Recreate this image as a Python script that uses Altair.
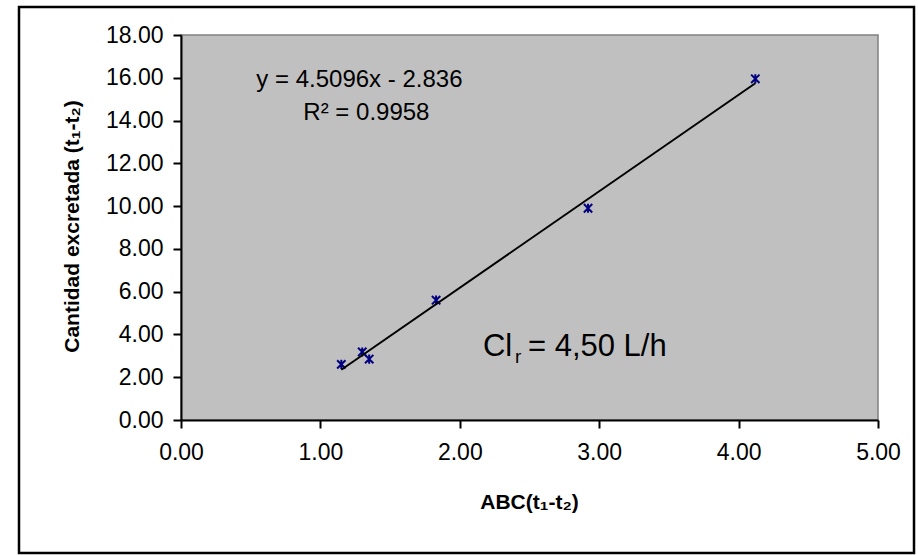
import altair as alt
import pandas as pd

# ---- data ----
x_vals = [1.15, 1.30, 1.35, 1.83, 2.92, 4.12]
y_vals = [2.60, 3.18, 2.85, 5.60, 9.90, 15.95]
slope = 4.5096
intercept = -2.836
fit_x = [1.15, 4.12]
x_ticks = [0, 1, 2, 3, 4, 5]
y_ticks = [0, 2, 4, 6, 8, 10, 12, 14, 16, 18]
eq_text = ["y = 4.5096x - 2.836"]
r2_text = ["R² = 0.9958"]
x_title = "ABC(t₁-t₂)"
y_title = "Cantidad excretada (t₁-t₂)"

FONT = "Liberation Sans"
W, H = 697, 385
PL, PT = 181, 35

pts = pd.DataFrame({"x": x_vals, "y": y_vals})
fit = pd.DataFrame({"x": fit_x, "y": [slope * v + intercept for v in fit_x]})

xs = alt.Scale(domain=[0, 5], nice=False)
ys = alt.Scale(domain=[0, 18], nice=False)

x_axis = alt.Axis(values=x_ticks, format=".2f", title=x_title, grid=False,
                  labelFlush=False, labelOverlap=False,
                  titleX=348, titleY=82, titleBaseline="middle", titleAlign="center")
y_axis = alt.Axis(values=y_ticks, format=".2f", title=y_title, grid=False,
                  labelFlush=False, labelOverlap=False,
                  titleX=-109, titleY=191, titleAngle=-90, titleBaseline="middle",
                  titleAlign="center")

points = alt.Chart(pts).mark_point(
    shape="M-1,-1L1,1M1,-1L-1,1M0,-1.1L0,1.1",
    size=70, color="#000080", strokeWidth=2, filled=False, opacity=1
).encode(
    x=alt.X("x:Q", scale=xs, axis=x_axis),
    y=alt.Y("y:Q", scale=ys, axis=y_axis),
)

line = alt.Chart(fit).mark_line(color="black", strokeWidth=2).encode(
    x=alt.X("x:Q", scale=xs), y=alt.Y("y:Q", scale=ys)
)

eq = alt.Chart(pd.DataFrame({"x": [1.28], "y": [15.9], "t": eq_text})).mark_text(
    font=FONT, fontSize=24, align="center", baseline="middle", color="black"
).encode(x="x:Q", y="y:Q", text="t:N")

r2 = alt.Chart(pd.DataFrame({"x": [1.33], "y": [14.35], "t": r2_text})).mark_text(
    font=FONT, fontSize=24, align="center", baseline="middle", color="black"
).encode(x="x:Q", y="y:Q", text="t:N")

cl_df = pd.DataFrame({"x": [2.166], "y": [3.4]})
cl1 = alt.Chart(cl_df).mark_text(
    font=FONT, fontSize=31, align="left", baseline="middle", color="black", text="Cl"
).encode(x="x:Q", y="y:Q")
cl2 = alt.Chart(cl_df).mark_text(
    font=FONT, fontSize=19, align="left", baseline="middle", color="black", text="r",
    dx=32, dy=10
).encode(x="x:Q", y="y:Q")
cl3 = alt.Chart(cl_df).mark_text(
    font=FONT, fontSize=31, align="left", baseline="middle", color="black",
    text="= 4,50 L/h", dx=45
).encode(x="x:Q", y="y:Q")

border = alt.Chart(alt.Data(values=[{}])).mark_rect(
    fillOpacity=0, stroke="black", strokeWidth=2.5
).encode(
    x=alt.value(19 - PL), x2=alt.value(914 - PL),
    y=alt.value(7 - PT), y2=alt.value(553 - PT),
)

chart = alt.layer(points, line, eq, r2, cl1, cl2, cl3, border).properties(
    width=W, height=H,
    autosize=alt.AutoSizeParams(type="none"),
    padding={"left": PL, "top": PT, "right": 918 - PL - W, "bottom": 555 - PT - H},
    background="white",
).configure_view(
    fill="#C0C0C0", stroke="#808080", strokeWidth=1.5
).configure_axis(
    domainColor="black", domainWidth=2, tickColor="black", tickWidth=2, tickSize=8,
    labelFont=FONT, labelFontSize=23, labelColor="black",
    titleFont=FONT, titleFontSize=21, titleFontWeight="bold", titleColor="black",
).configure_axisX(labelPadding=13).configure_axisY(labelPadding=10)

chart.save("out.html", embed_options={"renderer": "svg", "actions": False})
